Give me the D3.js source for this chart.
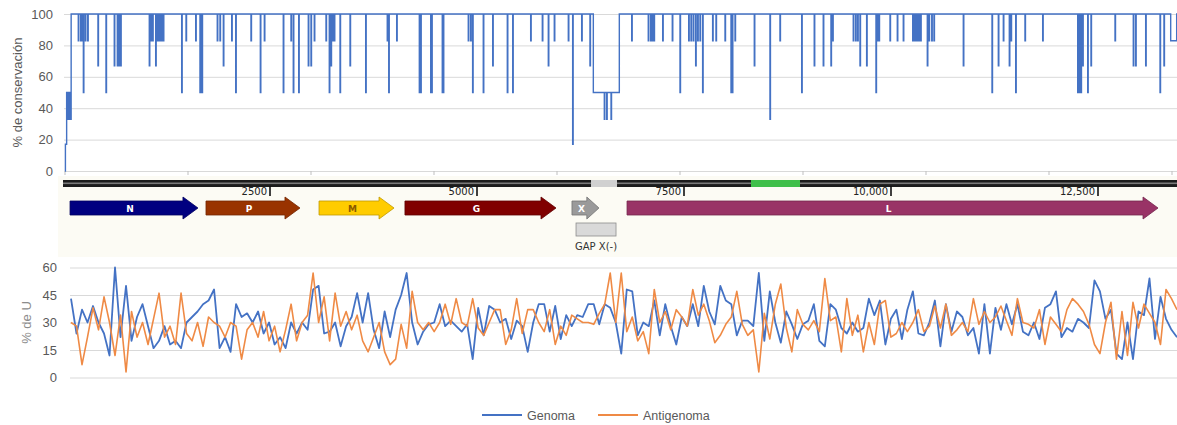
<!DOCTYPE html>
<html lang="es">
<head>
<meta charset="UTF-8">
<title>Conservación y % de U</title>
<script src="https://d3js.org/d3.v7.min.js"></script>
<style>
  body { margin: 0; background: #fff; }
  text { font-family: "Liberation Sans", Arial, sans-serif; }
  .map text { font-family: "DejaVu Sans", Verdana, sans-serif; }
</style>
</head>
<body>
<svg width="1177" height="425"></svg>
<script>
// ---- conservation track (position in nt, % conserved) ----
const startPos = [0, 5, 20, 30, 40, 50, 60, 70, 75];
const startVal = [0, 17, 50, 33, 50, 33, 50, 33, 100];
const dipPos = [162,191,207,224,248,277,402,500,601,638,659,679,1028,1049,1069,1106,1126,1146,1162,1179,1199,
  1423,1476,1594,1646,1659,1671,1857,1890,1931,2033,2082,2268,2382,2431,2662,2756,2784,2850,2967,3000,3040,
  3183,3223,3244,3264,3284,3354,3476,3667,3930,3948,4045,4321,4338,4460,4472,4601,4613,4918,4947,4971,5101,
  5216,5394,5460,5679,5821,5894,5967,6138,6191,6301,6402,6577,6606,6659,6911,7113,7142,7162,7183,7289,7406,
  7500,7606,7634,7662,7691,7716,7744,7776,7898,7939,8049,8122,8138,8171,8406,8597,8719,8984,9137,9247,9341,
  9362,9613,9642,9667,9695,9776,9890,9906,9927,10061,10150,10223,10338,10358,10378,10399,10418,10435,10516,
  10537,10570,10597,10955,11305,11382,11443,11516,11537,11594,11707,11923,12350,12370,12390,12411,12472,
  12512,12805,13028,13057,13179,13354,13402];
const dipVal = [83,83,83,50,83,83,67,50,67,67,67,67,67,83,83,67,83,83,83,83,83,
  50,83,83,50,50,50,83,83,67,83,50,83,50,83,50,83,50,50,67,67,83,
  83,50,67,83,83,50,67,50,83,50,83,50,50,50,50,50,50,83,83,50,50,
  67,50,50,83,83,67,83,83,17,83,67,33,33,33,83,83,83,83,83,83,83,
  50,83,83,83,67,83,83,50,83,83,83,50,50,83,67,33,83,50,67,67,67,
  83,83,83,83,67,67,50,83,83,83,83,83,83,83,83,83,83,83,67,
  83,83,83,67,50,67,83,67,83,50,83,83,50,50,50,67,50,
  67,83,67,67,67,50,67];
const gapRange = [6443, 6760];   // region at 50 %
const gapVal = 50;
const endStep = [13484, 13557];  // last step at 83 %
const endVal = 83;

// ---- genome map ----
const genes = ["N", "P", "M", "G", "X", "L"];
const geneStart = [85, 1727, 3092, 4130, 6147, 6812];
const geneEnd = [1630, 2862, 3998, 5954, 6473, 13225];
const mapTicks = [2500, 5000, 7500, 10000, 12500];
const mapTickLabels = ["2500", "5000", "7500", "10,000", "12,500"];
const gapBlock = [6377, 6691];
const greenBlock = [8309, 8901];
const gapBox = [6196, 6679];

// ---- % de U (windows along the genome) ----
const genoma = [43,24,37,30,39,30,24,12,60,22,50,20,33,40,28,16,20,28,18,20,16,30,33,36,40,42,48,16,22,14,
  40,33,35,30,36,24,30,18,22,16,30,24,30,26,48,50,24,25,30,17,28,33,46,30,46,26,16,36,22,37,
  45,57,30,18,25,29,30,40,28,31,28,25,29,10,38,23,39,37,30,32,21,31,28,14,30,40,40,25,39,21,
  34,28,34,33,40,40,29,40,38,30,13,48,47,23,30,28,42,23,40,28,18,33,28,40,28,50,36,29,50,42,
  40,23,31,31,28,57,20,47,30,19,36,29,21,
  29,31,40,20,17,40,37,27,24,30,25,27,43,34,42,18,32,37,21,37,47,24,23,30,42,17,40,25,36,33,
  23,27,13,40,13,38,26,40,29,40,25,23,30,21,38,40,47,22,27,25,32,30,27,53,47,32,37,13,10,30,
  10,36,34,54,21,44,32,26,22];
const antigenoma = [30,28,7,22,38,26,44,30,12,34,3,36,22,30,18,32,46,22,28,18,46,24,20,30,17,33,30,28,22,30,
  28,10,26,30,22,36,20,28,14,26,40,20,30,34,57,30,44,20,46,28,36,26,34,20,14,22,30,14,7,10,
  29,16,47,30,26,30,25,30,40,29,43,30,28,43,27,23,30,37,37,18,26,43,24,37,37,30,25,37,18,28,
  23,34,32,30,30,29,35,40,57,30,57,25,33,20,25,13,48,30,36,26,37,33,28,48,34,40,31,19,23,29,
  33,47,29,23,26,3,35,21,40,51,27,14,37,
  29,26,31,25,54,31,33,14,43,23,34,14,30,18,40,42,22,24,30,25,30,37,25,28,39,27,40,23,26,30,
  25,43,29,36,30,33,39,31,23,43,30,29,27,37,18,33,29,25,37,43,40,36,29,18,13,30,41,10,36,12,
  41,27,40,35,30,18,48,43,37];
const seriesNames = ["Genoma", "Antigenoma"];

const W = 1177;
const svg = d3.select("svg");
const grid = "#d9d9d9", labelColor = "#595959";

// ================= top chart =================
const xTop = d3.scaleLinear().domain([0, 13500]).range([65, 1172]);
const yTop = d3.scaleLinear().domain([0, 100]).range([171, 14]);

svg.append("clipPath").attr("id", "clipTop")
  .append("rect").attr("x", 60).attr("y", 0).attr("width", W - 60).attr("height", 180);

const gTopGrid = svg.append("g")
  .attr("transform", "translate(64,0)")
  .call(d3.axisLeft(yTop).tickValues([0, 20, 40, 60, 80, 100]).tickSize(-(W - 64)).tickPadding(11));
gTopGrid.select(".domain").remove();
gTopGrid.selectAll("line").attr("stroke", grid);
gTopGrid.selectAll("text").attr("fill", labelColor).style("font-size", "13px");

svg.append("g").selectAll("line")
  .data(d3.range(0, 13501, 1500))
  .join("line")
  .attr("x1", d => xTop(d)).attr("x2", d => xTop(d))
  .attr("y1", 171).attr("y2", 175)
  .attr("stroke", "#bfbfbf");

svg.append("text")
  .attr("transform", `translate(22,${yTop(50)}) rotate(-90)`)
  .attr("text-anchor", "middle")
  .attr("fill", labelColor)
  .style("font-size", "13px")
  .text("% de conservación");

// step series built from the dips
const consPts = startPos.map((p, i) => [p, startVal[i]]);
const baseAt = p => (p >= gapRange[0] && p < gapRange[1]) ? gapVal : 100;
dipPos.forEach((p, i) => {
  consPts.push([p, dipVal[i]]);
  consPts.push([p + 6, baseAt(p)]);
});
consPts.push([gapRange[0], gapVal], [gapRange[1], 100]);
consPts.push([endStep[0], endVal], [endStep[1], 100], [13600, 100]);
consPts.sort((a, b) => a[0] - b[0]);

svg.append("path")
  .datum(consPts)
  .attr("clip-path", "url(#clipTop)")
  .attr("fill", "none")
  .attr("stroke", "#4472c4")
  .attr("stroke-width", 1.4)
  .attr("d", d3.line().x(d => xTop(d[0])).y(d => yTop(d[1])).curve(d3.curveStepAfter));

// ================= genome map =================
const xMap = d3.scaleLinear().domain([0, 2500]).range([63, 270]);
const gMap = svg.append("g").attr("class", "map");

gMap.append("rect").attr("x", 58).attr("y", 176).attr("width", W - 58).attr("height", 81)
  .attr("fill", "#fcfbf4");

gMap.append("rect").attr("x", xMap(0)).attr("y", 180).attr("width", W - xMap(0)).attr("height", 7)
  .attr("fill", "#1c1c1c");
gMap.append("rect").attr("x", xMap(0)).attr("y", 182.5).attr("width", W - xMap(0)).attr("height", 1.6)
  .attr("fill", "#7a7a7a");
gMap.append("rect").attr("x", xMap(gapBlock[0])).attr("y", 180)
  .attr("width", xMap(gapBlock[1]) - xMap(gapBlock[0])).attr("height", 7)
  .attr("fill", "#d0d0d0");
gMap.append("rect").attr("x", xMap(greenBlock[0])).attr("y", 180)
  .attr("width", xMap(greenBlock[1]) - xMap(greenBlock[0])).attr("height", 7)
  .attr("fill", "#3fbf4a");

const tickG = gMap.selectAll(".mt").data(mapTicks).join("g").attr("class", "mt");
tickG.append("line")
  .attr("x1", d => xMap(d)).attr("x2", d => xMap(d))
  .attr("y1", 186).attr("y2", 196)
  .attr("stroke", "#111").attr("stroke-width", 1.6);
tickG.append("text")
  .attr("x", d => xMap(d) - 3).attr("y", 195)
  .attr("text-anchor", "end")
  .attr("fill", "#222")
  .style("font-size", "10px")
  .text((d, i) => mapTickLabels[i]);

const geneFill = d3.scaleOrdinal().domain(genes)
  .range(["#000080", "#993300", "#ffcc00", "#800000", "#9a9a9a", "#993366"]);
const geneText = d3.scaleOrdinal().domain(genes)
  .range(["#ffffff", "#ffffff", "#8a5a00", "#ffffff", "#ffffff", "#ffffff"]);

const cy = 208;
const arrowPath = (s, e) => {
  const x0 = xMap(s), x1 = xMap(e);
  const head = Math.min(15, (x1 - x0) * 0.45);
  const xb = x1 - head;
  return `M${x0},${cy - 7}L${xb},${cy - 7}L${xb},${cy - 11}L${x1},${cy}L${xb},${cy + 11}L${xb},${cy + 7}L${x0},${cy + 7}Z`;
};

const geneG = gMap.selectAll(".gene").data(genes).join("g").attr("class", "gene");
geneG.append("path")
  .attr("d", (d, i) => arrowPath(geneStart[i], geneEnd[i]))
  .attr("fill", d => geneFill(d))
  .attr("stroke", d => d3.color(geneFill(d)).darker(0.8))
  .attr("stroke-width", 0.8);
geneG.append("text")
  .attr("x", (d, i) => (xMap(geneStart[i]) + xMap(geneEnd[i])) / 2 - 4)
  .attr("y", cy + 3.5)
  .attr("text-anchor", "middle")
  .attr("fill", d => geneText(d))
  .style("font-size", "9px")
  .style("font-weight", "bold")
  .text(d => d);

gMap.append("rect")
  .attr("x", xMap(gapBox[0])).attr("y", 223)
  .attr("width", xMap(gapBox[1]) - xMap(gapBox[0])).attr("height", 13)
  .attr("fill", "#d9d9d9").attr("stroke", "#8c8c8c").attr("stroke-width", 0.8);
gMap.append("text")
  .attr("x", (xMap(gapBox[0]) + xMap(gapBox[1])) / 2).attr("y", 250)
  .attr("text-anchor", "middle")
  .attr("fill", "#333")
  .style("font-size", "10px")
  .text("GAP X(-)");

// ================= bottom chart =================
const xBot = d3.scaleLinear().domain([0, genoma.length - 1]).range([71, 1177]);
const yBot = d3.scaleLinear().domain([0, 60]).range([377.5, 267.5]);

const gBotGrid = svg.append("g")
  .attr("transform", "translate(70,0)")
  .call(d3.axisLeft(yBot).tickValues([0, 15, 30, 45, 60]).tickSize(-(W - 70)).tickPadding(13));
gBotGrid.select(".domain").remove();
gBotGrid.selectAll("line").attr("stroke", grid);
gBotGrid.selectAll("text").attr("fill", labelColor).style("font-size", "13px");

svg.append("text")
  .attr("transform", `translate(31,${yBot(30)}) rotate(-90)`)
  .attr("text-anchor", "middle")
  .attr("fill", "#8c8c8c")
  .style("font-size", "13px")
  .text("% de U");

const color = d3.scaleOrdinal().domain(seriesNames).range(["#4472c4", "#ef8a45"]);
const uLine = d3.line().x((d, i) => xBot(i)).y(d => yBot(d));

svg.append("path").datum(genoma)
  .attr("fill", "none").attr("stroke", color("Genoma")).attr("stroke-width", 1.8)
  .attr("stroke-linejoin", "round").attr("d", uLine);
svg.append("path").datum(antigenoma)
  .attr("fill", "none").attr("stroke", color("Antigenoma")).attr("stroke-width", 1.6)
  .attr("stroke-linejoin", "round").attr("d", uLine);

// legend
const legX = [482, 598];
const leg = svg.append("g").selectAll("g").data(seriesNames).join("g")
  .attr("transform", (d, i) => `translate(${legX[i]},415)`);
leg.append("line").attr("x1", 0).attr("x2", 40).attr("y1", 0).attr("y2", 0)
  .attr("stroke", d => color(d)).attr("stroke-width", 2);
leg.append("text").attr("x", 45).attr("y", 4.5)
  .attr("fill", labelColor).style("font-size", "12.5px")
  .text(d => d);
</script>
</body>
</html>
